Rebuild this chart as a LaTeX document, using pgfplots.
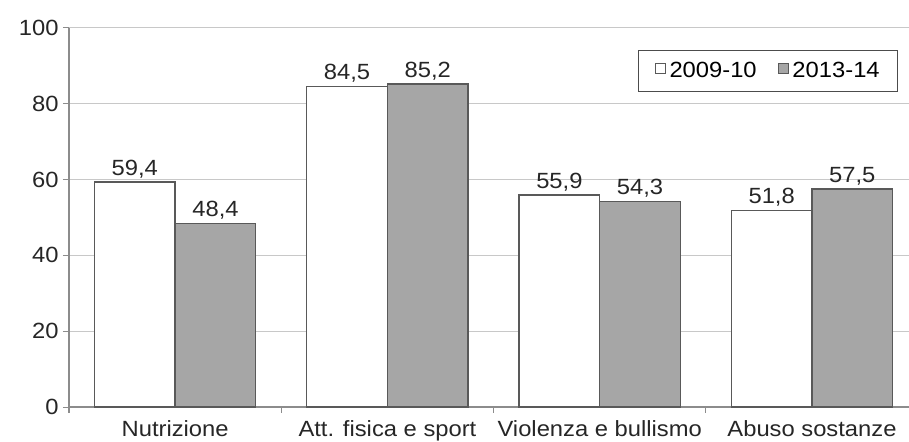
\documentclass[border=0pt]{standalone}
\usepackage{fontspec}
\setmainfont{Liberation Sans}[FakeStretch=1.08]
\usepackage{pgfplots}
\pgfplotsset{compat=1.18}
\newcommand{\fs}{\fontsize{22bp}{26bp}\selectfont}
\definecolor{barfill}{HTML}{A6A6A6}
\definecolor{baredge}{HTML}{595959}
\definecolor{axgray}{HTML}{8C8C8C}
\definecolor{gridgray}{HTML}{C8C8C8}

\begin{document}
\begin{tikzpicture}
\begin{axis}[
  name=ax,
  scale only axis,
  width=840bp, height=379bp,
  ybar=0pt, bar width=0.38,
  xmin=-0.5, xmax=3.457,
  ymin=0, ymax=100,
  ytick={0,20,...,100},
  xtick={0,1,2,3},
  xticklabels={Nutrizione, Att. fisica e sport, Violenza e bullismo, Abuso sostanze},
  minor xtick={-0.5,0.5,1.5,2.5},
  tick align=outside,
  major tick length=6bp, minor tick length=6bp,
  major x tick style={draw=none},
  minor x tick style={draw=axgray, line width=1.2bp},
  y tick style={draw=axgray, line width=1bp},
  axis x line*=bottom, axis y line*=left,
  axis line style={draw=axgray, line width=1.5bp},
  ymajorgrids, grid style={draw=gridgray, line width=1bp},
  /pgf/number format/assume math mode=true,
  ticklabel style={font=\fs, text=black!85},
  yticklabel style={xshift=-1bp},
  xticklabel style={yshift=-4bp},
  nodes near coords,
  nodes near coords style={font=\fs, text=black!85,
    /pgf/number format/.cd, fixed, fixed zerofill, precision=1, use comma},
  legend style={at={(0.987,0.942)}, anchor=north east, legend columns=2,
    draw=black!70, line width=0.8bp, font=\fs, inner xsep=16bp, inner ysep=10bp,
    /tikz/every odd column/.append style={column sep=2bp},
    /tikz/every even column/.append style={column sep=19bp}},
  legend image code/.code={\draw[#1, line width=0.8bp] (0bp,-3bp) rectangle (10bp,7bp);},
]
\addplot[fill=white, draw=baredge, line width=1.3bp] coordinates {
  (0,59.4) (1,84.5) (2,55.9) (3,51.8)
};
\addplot[fill=barfill, draw=baredge, line width=1.3bp] coordinates {
  (0,48.4) (1,85.2) (2,54.3) (3,57.5)
};
\legend{2009-10, 2013-14}
\end{axis}
\pgfresetboundingbox
\path[use as bounding box] ([xshift=-69bp,yshift=-35bp]ax.south west) rectangle ([yshift=28bp]ax.north east);
\end{tikzpicture}
\end{document}
